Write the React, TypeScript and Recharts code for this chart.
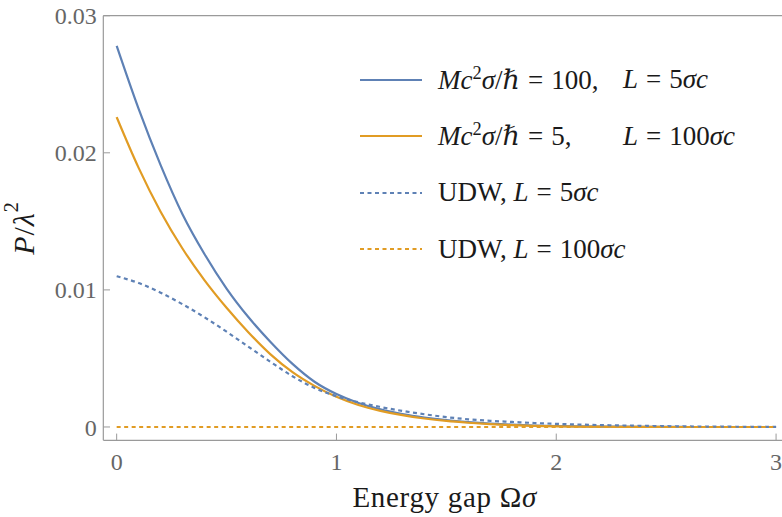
import React from 'react';
import { LineChart, Line, XAxis, YAxis, Legend, Label } from 'recharts';

const omega = [0, 0.1, 0.2, 0.3, 0.4, 0.5, 0.6, 0.7, 0.8, 0.9, 1.0, 1.1, 1.2, 1.3, 1.4, 1.5, 1.6, 1.7, 1.8, 1.9, 2.0, 2.1, 2.2, 2.3, 2.4, 2.5, 2.6, 2.7, 2.8, 2.9, 3.0];
const massM100L5 = [0.0278, 0.0232, 0.0191, 0.0155, 0.0126, 0.0101, 0.0080, 0.0062, 0.0046, 0.0033, 0.0024, 0.00175, 0.00128, 0.00094, 0.00069, 0.0005, 0.00036, 0.00025, 0.00017, 0.00011, 0.00007, 0.00005, 0.00003, 0.00002, 0.00001, 0.00001, 0, 0, 0, 0, 0];
const massM5L100 = [0.0226, 0.0189, 0.0157, 0.0130, 0.0107, 0.0087, 0.0069, 0.0053, 0.0040, 0.0030, 0.0022, 0.0016, 0.00118, 0.00086, 0.00062, 0.00044, 0.00031, 0.00021, 0.00013, 0.00008, 0.00005, 0.00003, 0.00002, 0.00001, 0.00001, 0, 0, 0, 0, 0, 0];
const udwL5 = [0.0110, 0.0105, 0.0098, 0.00895, 0.0080, 0.00695, 0.00585, 0.00475, 0.0037, 0.00285, 0.00225, 0.0018, 0.00146, 0.00117, 0.00093, 0.00072, 0.00056, 0.00045, 0.00037, 0.00029, 0.00023, 0.00018, 0.00014, 0.00011, 0.00008, 0.00006, 0.00004, 0.00003, 0.00002, 0.00001, 0.00001];
const udwL100 = [0, 0, 0, 0, 0, 0, 0, 0, 0, 0, 0, 0, 0, 0, 0, 0, 0, 0, 0, 0, 0, 0, 0, 0, 0, 0, 0, 0, 0, 0, 0];

const xMajorTicks = [0, 1, 2, 3];
const xTickLabels = ['0', '1', '2', '3'];
const xMinorTicks = [0.2, 0.4, 0.6, 0.8, 1.2, 1.4, 1.6, 1.8, 2.2, 2.4, 2.6, 2.8];
const yMajorTicks = [0, 0.01, 0.02, 0.03];
const yTickLabels = ['0', '0.01', '0.02', '0.03'];
const yMinorTicks = [0.002, 0.004, 0.006, 0.008, 0.012, 0.014, 0.016, 0.018, 0.022, 0.024, 0.026, 0.028];

const seriesNames = [
  'Mc²σ/ℏ = 100, L = 5σc',
  'Mc²σ/ℏ = 5, L = 100σc',
  'UDW, L = 5σc',
  'UDW, L = 100σc',
];

const BLUE = '#5E81B5';
const ORANGE = '#E19C24';
const FRAME = '#9a9a9a';
const SERIF = '"Liberation Serif", "DejaVu Serif", serif';
const AX = 0.01;

const data = omega.map((w, i) => ({
  w,
  a: massM100L5[i],
  b: massM5L100[i],
  c: udwL5[i],
  d: udwL100[i],
}));

const X_DOMAIN: [number, number] = [-0.0607, 3.027];
const Y_DOMAIN: [number, number] = [-0.00097, 0.03];

const it = { fontStyle: 'italic' as const };
const sp = { display: 'inline-block', width: 8 };
const supStyle = { fontSize: '0.68em', lineHeight: 0, verticalAlign: '0.55em' };

const legendRows = [
  {
    color: BLUE,
    dash: undefined as string | undefined,
    first: (
      <span>
        <span style={it}>M</span><span style={it}>c</span>
        <sup style={supStyle}>2</sup>
        <span style={it}>σ</span>/ℏ<span style={sp} />=<span style={sp} />100,
      </span>
    ),
    second: (
      <span>
        <span style={it}>L</span><span style={sp} />=<span style={sp} />5<span style={it}>σc</span>
      </span>
    ),
  },
  {
    color: ORANGE,
    dash: undefined as string | undefined,
    first: (
      <span>
        <span style={it}>M</span><span style={it}>c</span>
        <sup style={supStyle}>2</sup>
        <span style={it}>σ</span>/ℏ<span style={sp} />=<span style={sp} />5,
      </span>
    ),
    second: (
      <span>
        <span style={it}>L</span><span style={sp} />=<span style={sp} />100<span style={it}>σc</span>
      </span>
    ),
  },
  {
    color: BLUE,
    dash: '4 3.5',
    first: null,
    second: (
      <span>
        UDW, <span style={it}>L</span><span style={sp} />=<span style={sp} />5<span style={it}>σc</span>
      </span>
    ),
  },
  {
    color: ORANGE,
    dash: '4 3.5',
    first: null,
    second: (
      <span>
        UDW, <span style={it}>L</span><span style={sp} />=<span style={sp} />100<span style={it}>σc</span>
      </span>
    ),
  },
];

const renderLegend = () => (
  <div style={{ fontFamily: SERIF, fontSize: 27, color: '#1a1a1a' }}>
    {legendRows.map((r, i) => (
      <div
        key={i}
        title={seriesNames[i]}
        style={{ display: 'flex', alignItems: 'center', height: 56.5, whiteSpace: 'nowrap' }}
      >
        <svg width={62} height={6} style={{ marginRight: 16, flex: 'none' }}>
          <line x1={0} y1={3} x2={62} y2={3} stroke={r.color} strokeWidth={2.2} strokeDasharray={r.dash} />
        </svg>
        {r.first ? (
          <span style={{ display: 'inline-block', width: 185 }}>{r.first}</span>
        ) : null}
        {r.second}
      </div>
    ))}
  </div>
);

const XTitle = (props: any) => {
  const vb = props.viewBox || {};
  const cx = vb.x + vb.width / 2 + 2;
  const y = vb.y + 67;
  return (
    <text x={cx} y={y} textAnchor="middle" fontFamily={SERIF} fontSize={29} letterSpacing={0.7} fill="#1a1a1a">
      Energy gap Ω<tspan fontStyle="italic">σ</tspan>
    </text>
  );
};

const YTitle = (props: any) => {
  const vb = props.viewBox || {};
  const cx = vb.x - 80;
  const cy = vb.y + vb.height / 2;
  return (
    <text
      x={cx}
      y={cy}
      textAnchor="middle"
      dominantBaseline="central"
      transform={`rotate(-90, ${cx}, ${cy})`}
      fontFamily={SERIF}
      fontSize={30}
      letterSpacing={1}
      fill="#1a1a1a"
    >
      <tspan fontStyle="italic">P</tspan>/<tspan fontStyle="italic">λ</tspan>
      <tspan dy={-12} fontSize={20}>2</tspan>
    </text>
  );
};

const tickText = { fill: '#666', fontSize: 24, fontFamily: SERIF };

export default function App() {
  return (
    <div style={{ position: 'absolute', left: 0, top: 0, width: 782, height: 517, background: '#fff' }}>
      <LineChart
        width={782}
        height={517}
        data={data}
        margin={{ top: 15.7, right: 0, bottom: 76.7, left: 103.3 }}
      >
        <XAxis
          xAxisId="x"
          dataKey="w"
          type="number"
          domain={X_DOMAIN}
          allowDataOverflow
          ticks={xMajorTicks}
          interval={0}
          height={AX}
          tickSize={-6.7}
          tickMargin={19.7}
          axisLine={{ stroke: FRAME, strokeWidth: 1.2 }}
          tickLine={{ stroke: FRAME }}
          tick={tickText}
          tickFormatter={(v: number, i: number) => xTickLabels[i]}
        >
          <Label content={<XTitle />} />
        </XAxis>
        <XAxis
          xAxisId="xm"
          dataKey="w"
          type="number"
          domain={X_DOMAIN}
          allowDataOverflow
          ticks={xMinorTicks}
          interval={0}
          height={AX}
          tickSize={-4}
          axisLine={false}
          tickLine={{ stroke: FRAME }}
          tick={false}
        />
        <XAxis
          xAxisId="xt"
          orientation="top"
          dataKey="w"
          type="number"
          domain={X_DOMAIN}
          allowDataOverflow
          ticks={xMajorTicks}
          interval={0}
          height={AX}
          tickSize={-6.7}
          axisLine={{ stroke: FRAME, strokeWidth: 1.2 }}
          tickLine={{ stroke: FRAME }}
          tick={false}
        />
        <XAxis
          xAxisId="xtm"
          orientation="top"
          dataKey="w"
          type="number"
          domain={X_DOMAIN}
          allowDataOverflow
          ticks={xMinorTicks}
          interval={0}
          height={AX}
          tickSize={-4}
          axisLine={false}
          tickLine={{ stroke: FRAME }}
          tick={false}
        />
        <YAxis
          yAxisId="y"
          type="number"
          domain={Y_DOMAIN}
          allowDataOverflow
          ticks={yMajorTicks}
          interval={0}
          width={AX}
          tickSize={-6.7}
          tickMargin={13.3}
          axisLine={{ stroke: FRAME, strokeWidth: 1.2 }}
          tickLine={{ stroke: FRAME }}
          tick={tickText}
          tickFormatter={(v: number, i: number) => yTickLabels[i]}
        >
          <Label content={<YTitle />} />
        </YAxis>
        <YAxis
          yAxisId="ym"
          type="number"
          domain={Y_DOMAIN}
          allowDataOverflow
          ticks={yMinorTicks}
          interval={0}
          width={AX}
          tickSize={-4}
          axisLine={false}
          tickLine={{ stroke: FRAME }}
          tick={false}
        />
        <Legend
          content={renderLegend}
          layout="vertical"
          align="center"
          verticalAlign="middle"
          wrapperStyle={{ position: 'absolute', left: 360, top: 51.7, width: 420 }}
        />
        <Line xAxisId="x" yAxisId="y" type="monotone" dataKey="a" name={seriesNames[0]} stroke={BLUE} strokeWidth={2.2} dot={false} isAnimationActive={false} />
        <Line xAxisId="x" yAxisId="y" type="monotone" dataKey="b" name={seriesNames[1]} stroke={ORANGE} strokeWidth={2.2} dot={false} isAnimationActive={false} />
        <Line xAxisId="x" yAxisId="y" type="monotone" dataKey="c" name={seriesNames[2]} stroke={BLUE} strokeWidth={2.2} strokeDasharray="4 3.5" dot={false} isAnimationActive={false} />
        <Line xAxisId="x" yAxisId="y" type="monotone" dataKey="d" name={seriesNames[3]} stroke={ORANGE} strokeWidth={2.2} strokeDasharray="4 3.5" dot={false} isAnimationActive={false} />
      </LineChart>
    </div>
  );
}
